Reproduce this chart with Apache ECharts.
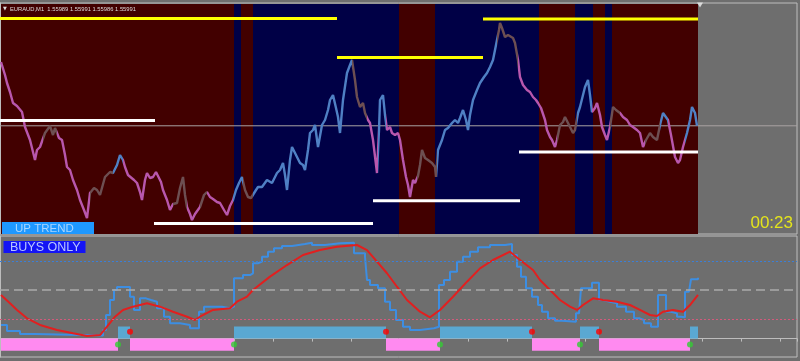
<!DOCTYPE html>
<html><head><meta charset="utf-8">
<script src="https://cdn.jsdelivr.net/npm/echarts@6/dist/echarts.min.js"></script>
<style>html,body{margin:0;padding:0;background:#6e6e6e;}#c{width:800px;height:361px;}</style>
</head><body><div id="c"></div><script>
// ---------- DATA ----------
const symbolName = 'EURAUD,M1';
const ohlc = ['1.55989', '1.55991', '1.55986', '1.55991'];
const timerText = '00:23';
const trendLabel = 'UP TREND';
const modeLabel = 'BUYS ONLY';

// M1 bar index -> close price
const priceIdx = [1,5,7,10,13,17,22,25,30,35,37,40,45,50,53,55,59,62,65,67,70,73,77,80,84,87,90,94,97,100,105,110,113,117,120,123,125,128,130,134,137,140,142,145,147,150,153,156,158,161,163,167,170,173,177,180,183,185,187,190,192,195,200,204,207,210,213,217,220,224,227,230,233,236,239,242,245,248,251,253,256,258,262,267,272,277,280,283,285,287,290,292,296,300,303,305,308,310,313,315,318,322,325,328,330,333,336,338,340,343,347,350,352,355,357,360,363,365,368,370,373,377,379,380,383,385,387,390,392,395,398,400,403,406,408,410,413,415,418,420,422,425,428,432,435,436,438,442,445,448,452,455,458,460,463,466,468,470,473,477,480,484,487,490,493,495,497,499,500,502,505,508,510,513,515,518,520,523,527,530,533,536,538,541,543,545,547,550,552,555,557,560,563,565,568,570,573,575,578,580,583,585,588,590,592,595,597,600,602,605,607,610,613,616,620,623,627,630,633,637,640,643,646,650,653,657,660,663,665,668,671,673,675,678,680,683,685,687,690,692,695,697];
const priceVal = [1.56310,1.56245,1.56205,1.56160,1.56105,1.56090,1.56060,1.55985,1.55920,1.55820,1.55870,1.55885,1.55955,1.55990,1.55945,1.55980,1.55930,1.55920,1.55845,1.55785,1.55770,1.55720,1.55670,1.55620,1.55570,1.55530,1.55655,1.55680,1.55670,1.55645,1.55735,1.55760,1.55755,1.55795,1.55845,1.55820,1.55785,1.55745,1.55735,1.55720,1.55705,1.55660,1.55620,1.55720,1.55755,1.55730,1.55735,1.55760,1.55770,1.55710,1.55670,1.55620,1.55570,1.55600,1.55605,1.55680,1.55735,1.55645,1.55585,1.55550,1.55520,1.55550,1.55585,1.55645,1.55660,1.55635,1.55625,1.55610,1.55605,1.55570,1.55545,1.55590,1.55620,1.55670,1.55705,1.55735,1.55670,1.55635,1.55630,1.55620,1.55670,1.55685,1.55685,1.55720,1.55705,1.55755,1.55770,1.55805,1.55745,1.55670,1.55820,1.55885,1.55845,1.55805,1.55795,1.55770,1.55870,1.55955,1.55970,1.55995,1.55885,1.55995,1.56020,1.56070,1.56120,1.56145,1.56080,1.56035,1.55955,1.56120,1.56255,1.56295,1.56320,1.56220,1.56135,1.56085,1.56105,1.56055,1.56020,1.56005,1.55920,1.55755,1.55970,1.56120,1.56145,1.56045,1.55970,1.55985,1.55955,1.55945,1.55955,1.55920,1.55820,1.55735,1.55695,1.55635,1.55720,1.55705,1.55740,1.55795,1.55870,1.55830,1.55820,1.55805,1.55785,1.55735,1.55870,1.55920,1.55970,1.55980,1.56005,1.56020,1.56005,1.56030,1.56070,1.56020,1.55970,1.56045,1.56120,1.56170,1.56205,1.56235,1.56255,1.56285,1.56320,1.56370,1.56420,1.56470,1.56505,1.56480,1.56435,1.56445,1.56435,1.56430,1.56405,1.56320,1.56235,1.56195,1.56170,1.56160,1.56135,1.56120,1.56105,1.56080,1.56070,1.56020,1.55970,1.55935,1.55920,1.55885,1.55920,1.55995,1.56010,1.56035,1.56005,1.55985,1.55955,1.55970,1.56055,1.56085,1.56145,1.56185,1.56220,1.56145,1.56060,1.56080,1.56105,1.56045,1.55985,1.55945,1.55920,1.55985,1.56085,1.56070,1.56055,1.56035,1.56020,1.55995,1.55985,1.55970,1.55955,1.55885,1.55920,1.55955,1.55935,1.55920,1.55995,1.56055,1.56045,1.56020,1.55945,1.55890,1.55835,1.55805,1.55820,1.55885,1.55920,1.55955,1.56020,1.56085,1.56055,1.55991];
const bidPrice = 1.55991;

// price line tone by bar range: dn / fl / up
const priceTone = [[0,43,'dn'],[43,57,'fl'],[57,90,'dn'],[90,113,'fl'],[113,123,'up'],[123,173,'dn'],[173,187,'fl'],[187,200,'dn'],[200,207,'fl'],[207,233,'dn'],[233,243,'up'],[243,253,'fl'],[253,352,'up'],[352,367,'fl'],[367,378,'dn'],[378,386,'up'],[386,417,'dn'],[417,437,'fl'],[437,497,'up'],[497,518,'fl'],[518,557,'dn'],[557,577,'fl'],[577,592,'up'],[592,610,'dn'],[610,620,'fl'],[620,645,'dn'],[645,660,'fl'],[660,668,'up'],[668,685,'dn'],[685,700,'up']];

// background trend bands [fromBar, toBar, 1=up(blue) 0=down(red)]
const trendBands = [[1,234,0],[234,241,1],[241,253,0],[253,399,1],[399,435,0],[435,539,1],[539,575,0],[575,593,1],[593,605,0],[605,612,1],[612,698,0]];

// resistance (yellow) and support (white) levels [fromBar, toBar, price]
const resistLevels = [[0,337,1.56528],[337,483,1.56332],[483,698,1.56525]];
const supportLevels = [[0,155,1.56017],[154,373,1.55503],[373,520,1.55616],[519,698,1.55860]];

// oscillator (lower panel)
const fastIdx = [1,7,20,35,103,106,110,114,117,130,134,140,146,151,157,164,170,180,190,199,204,222,230,234,243,250,253,258,262,268,274,282,292,305,312,325,340,354,365,367,370,378,385,390,396,403,410,420,434,439,444,450,457,463,470,478,490,505,512,517,521,526,532,538,542,548,555,562,576,579,581,592,599,603,610,617,626,634,639,644,651,658,666,671,677,681,685,689,691,698];
const fastVal = [14.1,7.9,4.8,3.2,8.9,24.4,39.9,50.2,53.3,43.3,29.6,41.6,39.9,38.1,31.3,22.6,15.8,14.1,10.7,27.8,33.0,31.3,33.0,62.3,65.7,67.5,77.8,79.5,84.6,89.8,93.3,95.7,97.7,99.1,96.7,98.5,99.1,88.1,84.6,60.5,55.4,52.0,38.1,29.6,19.2,12.3,8.9,10.7,12.3,55.4,60.5,69.1,79.5,84.6,89.8,94.3,96.7,97.7,86.4,74.3,64.0,52.0,43.3,34.7,27.8,21.0,18.5,17.5,26.1,27.8,52.0,57.8,39.9,38.1,36.5,33.0,27.8,21.0,19.2,15.8,12.3,45.1,27.8,26.1,22.6,22.0,48.5,50.2,61.3,62.9];
const slowIdx = [1,10,17,27,40,57,73,87,100,107,115,123,133,147,160,173,187,195,200,213,230,237,247,253,270,287,303,320,337,357,367,377,387,397,407,420,430,440,453,467,480,493,510,520,533,540,550,560,570,577,583,593,603,617,630,640,650,657,663,673,683,690,698];
const slowVal = [45.1,36.5,29.6,21.0,14.1,8.9,5.5,2.7,3.7,12.3,22.6,29.6,33.0,36.5,33.0,27.8,22.6,19.2,22.6,29.6,31.3,38.1,43.3,50.2,64.0,76.0,86.4,91.5,95.0,96.7,91.5,79.5,67.5,53.6,39.9,27.8,22.0,29.6,43.3,58.8,72.6,81.2,89.8,81.2,70.9,60.5,50.2,39.9,33.0,29.6,34.7,41.6,39.9,38.1,34.7,29.6,24.4,23.4,27.8,29.6,27.8,34.7,45.1];
const oscLevels = [80, 50, 20];
// signal histogram [fromBar, toBar, 1=buy -1=sell]
const signalBars = [[1,118,-1],[118,130,1],[130,234,-1],[234,386,1],[386,440,-1],[440,532,1],[532,580,-1],[580,599,1],[599,690,-1],[690,698,1]];
const signalHeight = 12.5;
const greenDots = [118,234,440,580,690];
const redDots = [130,386,532,599];
const greenDotVal = -6;
const redDotVal = 7;

// ---------- CHART ----------
const zip = (a, b) => a.map((v, i) => [v, b[i]]);
const PMIN = 1.55450, PMAX = 1.56605;
const toneColor = { dn: '#b857ad', up: '#4f80c4', fl: '#6d4f52' };
const FRAME = '#bdbdbd';

const series = [];
series.push({
  type: 'custom', xAxisIndex: 0, yAxisIndex: 0, z: 0, silent: true,
  data: trendBands, encode: { x: [0, 1] },
  renderItem: function (params, api) {
    const cs = params.coordSys;
    const x0 = api.coord([api.value(0), PMIN])[0];
    const x1 = api.coord([api.value(1), PMIN])[0];
    return { type: 'rect', shape: { x: x0, y: cs.y + 1, width: x1 - x0, height: cs.height - 1 },
      style: { fill: api.value(2) ? '#000046' : '#420000' } };
  }
});
series.push({
  type: 'line', xAxisIndex: 0, yAxisIndex: 0, z: 2, silent: true, symbol: 'none',
  data: [[0, bidPrice], [797, bidPrice]], lineStyle: { color: '#a9a3a3', width: 1 }
});
const priceSeriesIndex = series.length;
series.push({
  type: 'line', xAxisIndex: 0, yAxisIndex: 0, z: 3, silent: true, symbol: 'none',
  data: zip(priceIdx, priceVal), lineStyle: { width: 2.4 }
});
resistLevels.forEach(l => series.push({
  type: 'line', xAxisIndex: 0, yAxisIndex: 0, z: 4, silent: true, symbol: 'none',
  data: [[l[0], l[2]], [l[1], l[2]]], lineStyle: { color: '#ffff00', width: 3 }
}));
supportLevels.forEach(l => series.push({
  type: 'line', xAxisIndex: 0, yAxisIndex: 0, z: 4, silent: true, symbol: 'none',
  data: [[l[0], l[2]], [l[1], l[2]]], lineStyle: { color: '#ffffff', width: 3 }
}));
series.push({
  type: 'scatter', xAxisIndex: 0, yAxisIndex: 0, z: 6, silent: true,
  data: [[priceIdx[priceIdx.length - 1] + 3, PMAX]], symbol: 'triangle', symbolRotate: 180,
  symbolSize: [6, 5], symbolOffset: [0, 2], itemStyle: { color: '#f0f0f0' }
});
series.push({
  type: 'custom', xAxisIndex: 1, yAxisIndex: 1, z: 1, silent: true,
  data: signalBars, encode: { x: [0, 1] },
  renderItem: function (params, api) {
    const s = api.value(2);
    const p0 = api.coord([api.value(0), s * signalHeight]);
    const p1 = api.coord([api.value(1), 0]);
    return { type: 'rect', shape: { x: p0[0], y: Math.min(p0[1], p1[1]), width: p1[0] - p0[0], height: Math.abs(p1[1] - p0[1]) },
      style: { fill: s > 0 ? '#5aa8d2' : '#ff8af0' } };
  }
});
series.push({
  type: 'line', xAxisIndex: 1, yAxisIndex: 1, z: 3, silent: true, symbol: 'none', step: 'end',
  data: zip(fastIdx, fastVal), lineStyle: { color: '#3d8ee2', width: 2 },
  markLine: {
    silent: true, symbol: 'none', label: { show: false },
    data: [
      { yAxis: oscLevels[0], lineStyle: { color: '#3b7fd6', type: [2, 2], width: 1 } },
      { yAxis: oscLevels[1], lineStyle: { color: '#ababab', type: [9, 5], width: 1.5 } },
      { yAxis: oscLevels[2], lineStyle: { color: '#d25a7c', type: [2, 2], width: 1 } }
    ]
  }
});
series.push({
  type: 'line', xAxisIndex: 1, yAxisIndex: 1, z: 4, silent: true, symbol: 'none',
  data: zip(slowIdx, slowVal), lineStyle: { color: '#e21f1f', width: 2 }
});
series.push({
  type: 'scatter', xAxisIndex: 1, yAxisIndex: 1, z: 6, silent: true, symbolSize: 6,
  data: greenDots.map(x => [x, greenDotVal]), itemStyle: { color: '#33cc33' }
});
series.push({
  type: 'scatter', xAxisIndex: 1, yAxisIndex: 1, z: 6, silent: true, symbolSize: 6,
  data: redDots.map(x => [x, redDotVal]), itemStyle: { color: '#ff0000' }
});

const option = {
  animation: false,
  backgroundColor: '#6e6e6e',
  grid: [
    { left: 0, right: 3, top: 3, height: 231, show: true, borderColor: FRAME, borderWidth: 1, backgroundColor: 'transparent' },
    { left: 0, right: 3, top: 236, height: 121, show: true, borderColor: FRAME, borderWidth: 1, backgroundColor: 'transparent' }
  ],
  xAxis: [
    { type: 'value', gridIndex: 0, min: 0, max: 797, axisLine: { show: false }, axisTick: { show: false }, axisLabel: { show: false }, splitLine: { show: false } },
    { type: 'value', gridIndex: 1, min: 0, max: 797, interval: 39, axisLine: { show: true, lineStyle: { color: FRAME } },
      axisTick: { show: true, length: 3, lineStyle: { color: FRAME } }, axisLabel: { show: false }, splitLine: { show: false } }
  ],
  yAxis: [
    { type: 'value', gridIndex: 0, min: PMIN, max: PMAX, position: 'right', scale: true,
      axisLine: { show: true, lineStyle: { color: FRAME } }, axisTick: { show: false },
      axisLabel: { show: false }, splitLine: { show: false } },
    { type: 'value', gridIndex: 1, min: -19, max: 106, position: 'right',
      axisLine: { show: true, lineStyle: { color: FRAME } }, axisTick: { show: false },
      axisLabel: { show: false }, splitLine: { show: false } }
  ],
  visualMap: {
    type: 'piecewise', show: false, dimension: 0, seriesIndex: priceSeriesIndex,
    pieces: priceTone.map(t => ({ gte: t[0], lt: t[1], color: toneColor[t[2]] })),
    outOfRange: { color: toneColor.up }
  },
  series: series,
  graphic: [
    { type: 'text', x: 3, y: 9, z: 100, style: { text: '▼', font: '5px "DejaVu Sans"', fill: '#dcdcdc', verticalAlign: 'middle' } },
    { type: 'text', x: 10, y: 9, z: 100, style: { text: symbolName + '  ' + ohlc.join(' '), font: '5.8px "Liberation Sans"', fill: '#dcdcdc', verticalAlign: 'middle' } },
    { type: 'rect', z: 100, shape: { x: 2, y: 222, width: 92, height: 12 }, style: { fill: '#1f98ff' } },
    { type: 'text', x: 15, y: 228.5, z: 101, style: { text: trendLabel, font: '11.5px "Liberation Sans"', fill: '#a9d6ff', verticalAlign: 'middle' } },
    { type: 'rect', z: 100, shape: { x: 3.5, y: 241, width: 82, height: 12 }, style: { fill: '#1414f5' } },
    { type: 'text', x: 10, y: 247.5, z: 101, style: { text: modeLabel, font: '12.5px "Liberation Sans"', fill: '#b9c6ff', verticalAlign: 'middle' } },
    { type: 'text', x: 793, y: 223.5, z: 100, style: { text: timerText, font: '17px "Liberation Sans"', fill: '#e4e41c', align: 'right', verticalAlign: 'middle' } }
  ]
};
const chart = echarts.init(document.getElementById('c'), null, { renderer: 'canvas' });
chart.setOption(option);
</script></body></html>
